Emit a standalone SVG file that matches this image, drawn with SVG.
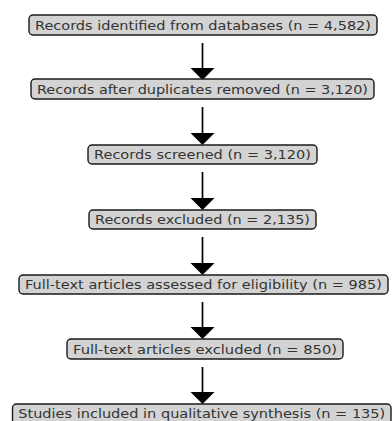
<svg xmlns="http://www.w3.org/2000/svg" width="392" height="421" viewBox="0 0 392 421">
<style>
.box{fill:#d3d3d3;stroke:#1a1a1a;stroke-width:1.4}
.lbl{font-family:"DejaVu Sans",sans-serif;font-size:13px;fill:#333;text-anchor:middle}
.edge{stroke:#000;stroke-width:1.7;fill:none}
.head{fill:#000}
</style>
<rect width="392" height="421" fill="#fff"/>
<g id="connectors">
<line class="edge" x1="202.5" y1="43" x2="202.5" y2="70"/><polygon class="head" points="190.5,68 214.5,68 202.5,80"/>
<line class="edge" x1="202.5" y1="107" x2="202.5" y2="134"/><polygon class="head" points="190.5,133 214.5,133 202.5,145"/>
<line class="edge" x1="202.5" y1="172" x2="202.5" y2="199"/><polygon class="head" points="190.5,198 214.5,198 202.5,210"/>
<line class="edge" x1="202.5" y1="237" x2="202.5" y2="264"/><polygon class="head" points="190.5,263 214.5,263 202.5,275"/>
<line class="edge" x1="202.5" y1="302" x2="202.5" y2="329"/><polygon class="head" points="190.5,327 214.5,327 202.5,339"/>
<line class="edge" x1="202.5" y1="367" x2="202.5" y2="394"/><polygon class="head" points="190.5,392 214.5,392 202.5,404"/>
</g>
<g id="n1"><rect class="box" x="29" y="15" width="348" height="20" rx="4"/><text class="lbl" x="203" y="29.6" textLength="336" lengthAdjust="spacingAndGlyphs">Records identified from databases (n = 4,582)</text></g>
<g id="n2"><rect class="box" x="31" y="79" width="343" height="20" rx="4"/><text class="lbl" x="202.5" y="93.6" textLength="331" lengthAdjust="spacingAndGlyphs">Records after duplicates removed (n = 3,120)</text></g>
<g id="n3"><rect class="box" x="88" y="145" width="229" height="19" rx="4"/><text class="lbl" x="202.5" y="159.1" textLength="217" lengthAdjust="spacingAndGlyphs">Records screened (n = 3,120)</text></g>
<g id="n4"><rect class="box" x="89" y="210" width="227" height="19" rx="4"/><text class="lbl" x="202.5" y="224.1" textLength="215" lengthAdjust="spacingAndGlyphs">Records excluded (n = 2,135)</text></g>
<g id="n5"><rect class="box" x="19" y="275" width="369" height="19" rx="4"/><text class="lbl" x="203.5" y="289.1" textLength="357" lengthAdjust="spacingAndGlyphs">Full-text articles assessed for eligibility (n = 985)</text></g>
<g id="n6"><rect class="box" x="67" y="339" width="276" height="20" rx="4"/><text class="lbl" x="205" y="353.6" textLength="264" lengthAdjust="spacingAndGlyphs">Full-text articles excluded (n = 850)</text></g>
<g id="n7"><rect class="box" x="12.5" y="404" width="378.5" height="20" rx="4"/><text class="lbl" x="201.75" y="417.8" textLength="367" lengthAdjust="spacingAndGlyphs">Studies included in qualitative synthesis (n = 135)</text></g>
</svg>
